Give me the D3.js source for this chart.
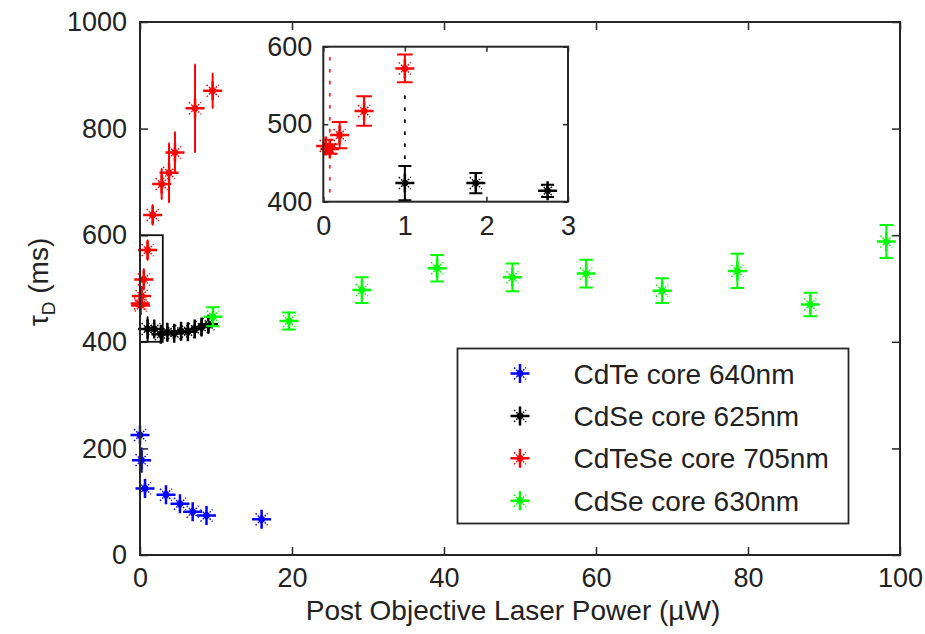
<!DOCTYPE html>
<html>
<head>
<meta charset="utf-8">
<script src="https://cdn.jsdelivr.net/npm/d3@7"></script>
<style>
  body { margin: 0; background: #fff; }
  text { font-family: "Liberation Sans", Arial, sans-serif; fill: #222; }
</style>
</head>
<body>
<svg id="chart" width="925" height="634"></svg>
<script>
// ---- data: post-objective laser power (µW) vs. tau_D (ms) ----
const seriesNames  = ["CdTe core 640nm", "CdSe core 625nm", "CdTeSe core 705nm", "CdSe core 630nm"];
const seriesColors = ["#0000ff", "#000000", "#ff0000", "#00ff00"];

const cdte640X   = [0.0, 0.2, 0.66, 3.42, 5.26, 6.93, 8.75, 16.0];
const cdte640Y   = [225, 178, 125, 113, 96, 81, 74, 67];
const cdte640Err = [6, 22, 8, 6, 6, 6, 5, 5];

const cdse625X   = [1.0, 1.87, 2.75, 3.6, 4.5, 5.4, 6.3, 7.2, 8.1, 9.0];
const cdse625Y   = [424, 424, 414, 418, 416, 420, 419, 424, 428, 433];
const cdse625Err = [22, 13, 8, 12, 10, 10, 12, 12, 14, 16];

const cdtese705X   = [0.03, 0.08, 0.2, 0.5, 1.0, 1.67, 2.85, 3.82, 4.6, 7.24, 9.56];
const cdtese705Y   = [472, 468, 486, 517, 572, 638, 696, 717, 755, 838, 871];
const cdtese705Err = [8, 6, 17, 19, 18, 18, 28, 55, 38, 82, 32];

const cdse630X   = [9.6, 19.6, 29.2, 39.1, 49.0, 58.7, 68.7, 78.6, 88.2, 98.2];
const cdse630Y   = [447, 439, 497, 538, 521, 528, 496, 533, 470, 588];
const cdse630Err = [18, 16, 24, 25, 26, 26, 23, 32, 22, 31];

const mainXTicks  = [0, 20, 40, 60, 80, 100];
const mainYTicks  = [0, 200, 400, 600, 800, 1000];
const insetXTicks = [0, 1, 2, 3];
const insetYTicks = [400, 500, 600];

// dotted guide lines inside the zoomed axes: [x, yFrom, yTo]
const redGuide   = [0.08, 413, 589];
const blackGuide = [1.0, 456, 544];

const xLabel = "Post Objective Laser Power (\u00b5W)";

// ---- assemble series ----
const allX = [cdte640X, cdse625X, cdtese705X, cdse630X];
const allY = [cdte640Y, cdse625Y, cdtese705Y, cdse630Y];
const allE = [cdte640Err, cdse625Err, cdtese705Err, cdse630Err];
const series = seriesNames.map((name, i) => {
  const xs = allX[i];
  // errorbar cap half-width: 1% of the series' x-span
  const tee = (d3.max(xs) - d3.min(xs)) / 100;
  return {
    name, color: seriesColors[i], tee,
    points: xs.map((x, j) => ({ x, y: allY[i][j], e: allE[i][j] }))
  };
});

const svg = d3.select("#chart");
const ink = "#262626";
const fmt = d3.format("d");

// ---- main axes ----
const M = { left: 140, right: 900, top: 22, bottom: 555 };
const x = d3.scaleLinear().domain([0, 100]).range([M.left, M.right]);
const y = d3.scaleLinear().domain([0, 1000]).range([M.bottom, M.top]);

// asterisk marker (plus with short diagonals and a solid centre)
function drawMarker(g, cx, cy, color) {
  const m = g.append("g").attr("transform", `translate(${cx},${cy})`);
  m.append("path").attr("d", "M-9.5,0H9.5M0,-9.5V9.5")
    .attr("stroke", color).attr("stroke-width", 2.5).attr("fill", "none");
  m.append("path").attr("d", "M-6,-6L6,6M-6,6L6,-6")
    .attr("stroke", color).attr("stroke-width", 1.4).attr("fill", "none")
    .attr("stroke-dasharray", "1.6 1.6");
  m.append("circle").attr("r", 3.4).attr("fill", color);
}

function drawSeries(g, s, xs, ys, clipId) {
  const lines = g.append("g").attr("stroke", s.color).attr("stroke-width", 2).attr("fill", "none");
  if (clipId) lines.attr("clip-path", `url(#${clipId})`);
  s.points.forEach(p => {
    const px = xs(p.x), top = ys(p.y + p.e), bot = ys(p.y - p.e);
    const c0 = xs(p.x - s.tee), c1 = xs(p.x + s.tee);
    lines.append("path").attr("d",
      `M${px},${top}V${bot}M${c0},${top}H${c1}M${c0},${bot}H${c1}`);
  });
  s.points.forEach(p => drawMarker(g, xs(p.x), ys(p.y), s.color));
}

function styleAxis(g) {
  g.select(".domain").remove();
  g.selectAll(".tick line").attr("stroke", ink).attr("stroke-width", 1.5);
  g.selectAll(".tick text").style("font-size", "27px").attr("fill", ink);
}

// inward ticks on all four sides
const mainAxes = svg.append("g");
mainAxes.append("g").attr("transform", `translate(0,${M.bottom})`)
  .call(d3.axisBottom(x).tickValues(mainXTicks).tickFormat(fmt).tickSizeInner(-8).tickSizeOuter(0).tickPadding(13))
  .call(styleAxis);
mainAxes.append("g").attr("transform", `translate(0,${M.top})`)
  .call(d3.axisTop(x).tickValues(mainXTicks).tickSizeInner(-8).tickSizeOuter(0).tickFormat(""))
  .call(styleAxis);
mainAxes.append("g").attr("transform", `translate(${M.left},0)`)
  .call(d3.axisLeft(y).tickValues(mainYTicks).tickFormat(fmt).tickSizeInner(-8).tickSizeOuter(0).tickPadding(13))
  .call(styleAxis);
mainAxes.append("g").attr("transform", `translate(${M.right},0)`)
  .call(d3.axisRight(y).tickValues(mainYTicks).tickSizeInner(-8).tickSizeOuter(0).tickFormat(""))
  .call(styleAxis);

// zoom window outline in the main axes (matches the inset's domain)
const insetXDom = [0, 3], insetYDom = [400, 600];
svg.append("rect")
  .attr("x", x(insetXDom[0])).attr("y", y(insetYDom[1]))
  .attr("width", x(insetXDom[1]) - x(insetXDom[0]))
  .attr("height", y(insetYDom[0]) - y(insetYDom[1]))
  .attr("fill", "none").attr("stroke", "#111").attr("stroke-width", 1.8);

const mainData = svg.append("g");
series.forEach(s => drawSeries(mainData, s, x, y, null));

// axes box
svg.append("rect")
  .attr("x", M.left).attr("y", M.top)
  .attr("width", M.right - M.left).attr("height", M.bottom - M.top)
  .attr("fill", "none").attr("stroke", ink).attr("stroke-width", 2);

// axis titles
svg.append("text")
  .attr("x", (M.left + M.right) / 2 - 7).attr("y", 620)
  .attr("text-anchor", "middle").style("font-size", "28px").attr("fill", ink)
  .text(xLabel);

const yt = svg.append("text")
  .attr("transform", "translate(48,282) rotate(-90)")
  .attr("text-anchor", "middle").style("font-size", "28px").attr("fill", ink);
yt.append("tspan").text("\u03c4");
yt.append("tspan").attr("dy", 7).style("font-size", "19px").text("D");
yt.append("tspan").attr("dy", -7).text(" (ms)");

// ---- legend ----
const L = { x: 457.5, y: 348.5, w: 391, h: 175 };
const legend = svg.append("g");
legend.append("rect")
  .attr("x", L.x).attr("y", L.y).attr("width", L.w).attr("height", L.h)
  .attr("fill", "#fff").attr("stroke", ink).attr("stroke-width", 1.8);
series.forEach((s, i) => {
  const cy = L.y + 25 + i * 42.4;
  drawMarker(legend, L.x + 62.5, cy, s.color);
  legend.append("text")
    .attr("x", L.x + 116).attr("y", cy).attr("dy", "0.36em")
    .style("font-size", "28px").attr("fill", ink)
    .text(s.name);
});

// ---- inset: zoom of the low-power region ----
const I = { left: 323.3, right: 568, top: 46.7, bottom: 201.7 };
const xi = d3.scaleLinear().domain(insetXDom).range([I.left, I.right]);
const yi = d3.scaleLinear().domain(insetYDom).range([I.bottom, I.top]);

svg.append("defs").append("clipPath").attr("id", "insetClip")
  .append("rect").attr("x", I.left).attr("y", I.top)
  .attr("width", I.right - I.left).attr("height", I.bottom - I.top);

svg.append("rect")
  .attr("x", I.left).attr("y", I.top)
  .attr("width", I.right - I.left).attr("height", I.bottom - I.top)
  .attr("fill", "#fff");

const insetAxes = svg.append("g");
insetAxes.append("g").attr("transform", `translate(0,${I.bottom})`)
  .call(d3.axisBottom(xi).tickValues(insetXTicks).tickFormat(fmt).tickSizeInner(-5).tickSizeOuter(0).tickPadding(14))
  .call(styleAxis);
insetAxes.append("g").attr("transform", `translate(0,${I.top})`)
  .call(d3.axisTop(xi).tickValues(insetXTicks).tickSizeInner(-5).tickSizeOuter(0).tickFormat(""))
  .call(styleAxis);
insetAxes.append("g").attr("transform", `translate(${I.left},0)`)
  .call(d3.axisLeft(yi).tickValues(insetYTicks).tickFormat(fmt).tickSizeInner(-5).tickSizeOuter(0).tickPadding(11))
  .call(styleAxis);
insetAxes.append("g").attr("transform", `translate(${I.right},0)`)
  .call(d3.axisRight(yi).tickValues(insetYTicks).tickSizeInner(-5).tickSizeOuter(0).tickFormat(""))
  .call(styleAxis);

// dotted guides
[[redGuide, "#ff3030"], [blackGuide, "#111"]].forEach(([gd, col]) => {
  svg.append("line")
    .attr("x1", xi(gd[0])).attr("x2", xi(gd[0]))
    .attr("y1", yi(gd[1])).attr("y2", yi(gd[2]))
    .attr("stroke", col).attr("stroke-width", 2)
    .attr("stroke-dasharray", "2 10").attr("stroke-linecap", "round");
});

const insetData = svg.append("g");
series.forEach(s => {
  const inRange = {
    ...s,
    points: s.points.filter(p => p.x >= insetXDom[0] && p.x <= insetXDom[1] &&
                                 p.y >= insetYDom[0] && p.y <= insetYDom[1])
  };
  drawSeries(insetData, inRange, xi, yi, "insetClip");
});

svg.append("rect")
  .attr("x", I.left).attr("y", I.top)
  .attr("width", I.right - I.left).attr("height", I.bottom - I.top)
  .attr("fill", "none").attr("stroke", ink).attr("stroke-width", 2);
</script>
</body>
</html>
